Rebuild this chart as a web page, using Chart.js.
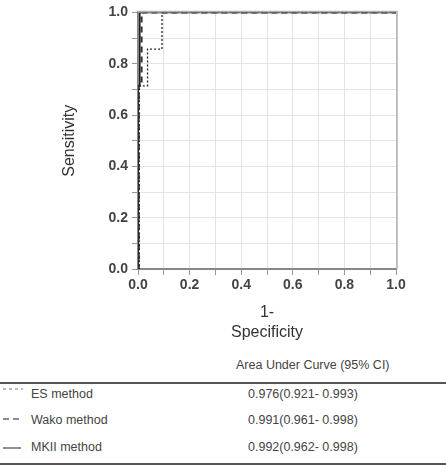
<!DOCTYPE html>
<html>
<head>
<meta charset="utf-8">
<script src="https://cdn.jsdelivr.net/npm/chart.js@4/dist/chart.umd.min.js"></script>
<style>
  body { margin: 0; background: #fff; font-family: "Liberation Sans", Arial, sans-serif; }
  #wrap { position: relative; width: 446px; height: 466px; }
  #rocChart { position: absolute; left: 0; top: 0; }
  .txt { position: absolute; font-size: 12.5px; color: #444; white-space: nowrap; }
  .rule { position: absolute; left: 0; width: 446px; height: 2px; background: #555; }
  .sample { position: absolute; left: 3px; width: 19px; height: 0; }
</style>
</head>
<body>
<div id="wrap">
  <canvas id="rocChart" width="446" height="350"></canvas>
  <div class="txt" style="left:236px; top:358px;">Area Under Curve (95% CI)</div>
  <div class="rule" style="top:382px;"></div>
  <svg class="sample" style="top:388px; height:3px; width:20px;"><line x1="0" y1="1" x2="20" y2="1" stroke="#777" stroke-width="1" stroke-dasharray="3,3"/></svg>
  <div class="txt" style="left:31px; top:387px;">ES method</div>
  <div class="txt" style="left:248px; top:387px;">0.976(0.921- 0.993)</div>
  <svg class="sample" style="top:418px; height:3px; width:20px;"><line x1="0" y1="1" x2="20" y2="1" stroke="#666" stroke-width="1.3" stroke-dasharray="6,4"/></svg>
  <div class="txt" style="left:31px; top:413px;">Wako method</div>
  <div class="txt" style="left:248px; top:413px;">0.991(0.961- 0.998)</div>
  <svg class="sample" style="top:447px; height:3px; width:20px;"><line x1="0" y1="1" x2="18" y2="1" stroke="#555" stroke-width="1.3"/></svg>
  <div class="txt" style="left:31px; top:440px;">MKII method</div>
  <div class="txt" style="left:248px; top:440px;">0.992(0.962- 0.998)</div>
  <div class="rule" style="top:463px;"></div>
</div>
<script>
const esFpr = [0, 0.005, 0.005, 0.037, 0.037, 0.093, 0.093, 1.0];
const esTpr = [0, 0, 0.714, 0.714, 0.857, 0.857, 1.0, 1.0];
const wakoFpr = [0, 0.003, 0.003, 0.014, 0.014, 1.0];
const wakoTpr = [0, 0, 0.714, 0.714, 1.0, 1.0];
const mkiiFpr = [0, 0.0, 0.007, 0.007, 1.0];
const mkiiTpr = [0, 0.714, 0.714, 1.0, 1.0];

const toPoints = (xs, ys) => xs.map((x, i) => ({ x: x, y: ys[i] }));

// light frame round the plot area
const frame = {
    id: 'frame',
    afterDraw(chart) {
        const a = chart.chartArea;
        const ctx = chart.ctx;
        ctx.save();
        ctx.strokeStyle = '#b0b0b0';
        ctx.lineWidth = 1.5;
        ctx.beginPath();
        ctx.moveTo(a.left, a.top - 1);
        ctx.lineTo(a.right + 1, a.top - 1);
        ctx.lineTo(a.right + 1, a.bottom);
        ctx.stroke();
        ctx.restore();
    }
};

const tickFont = { family: 'Liberation Sans', size: 14, weight: 'bold' };
const titleFont = { family: 'Liberation Sans', size: 16, lineHeight: '20px' };

const roc = new Chart(document.getElementById('rocChart').getContext('2d'), {
    type: 'line',
    data: {
        datasets: [
            { label: 'ES method', data: toPoints(esFpr, esTpr), borderColor: '#222', borderWidth: 1.3, borderDash: [2, 2] },
            { label: 'Wako method', data: toPoints(wakoFpr, wakoTpr), borderColor: '#333', borderWidth: 2, borderDash: [6, 4] },
            { label: 'MKII method', data: toPoints(mkiiFpr, mkiiTpr), borderColor: '#111', borderWidth: 1.5 }
        ]
    },
    options: {
        responsive: false,
        animation: false,
        parsing: false,
        elements: { point: { radius: 0 }, line: { tension: 0 } },
        layout: { padding: { left: 60, top: 11, right: 50, bottom: 0 } },
        plugins: { legend: { display: false }, tooltip: { enabled: false } },
        scales: {
            x: {
                type: 'linear', min: 0, max: 1,
                afterFit: s => { s.height = 81; },
                border: { color: '#888', width: 2 },
                grid: { color: '#e4e4e4', tickColor: '#999', tickLength: 6 },
                ticks: {
                    stepSize: 0.1, color: '#444', font: tickFont, padding: 2, maxRotation: 0, autoSkip: false,
                    callback: v => (Math.round(v * 10) % 2 === 0 ? v.toFixed(1) : '')
                },
                title: { display: true, text: ['1-', 'Specificity'], color: '#333', font: titleFont, padding: { top: 0, bottom: 7 } }
            },
            y: {
                type: 'linear', min: 0, max: 1,
                afterFit: s => { s.width = 78; },
                border: { color: '#888', width: 2 },
                grid: { color: '#e4e4e4', tickColor: '#999', tickLength: 6 },
                ticks: {
                    stepSize: 0.1, color: '#444', font: tickFont, padding: 4, autoSkip: false,
                    callback: v => (Math.round(v * 10) % 2 === 0 ? v.toFixed(1) : '')
                },
                title: { display: true, text: 'Sensitivity', color: '#333', font: titleFont, padding: { top: 0, bottom: 0 } }
            }
        }
    },
    plugins: [frame]
});
</script>
</body>
</html>
